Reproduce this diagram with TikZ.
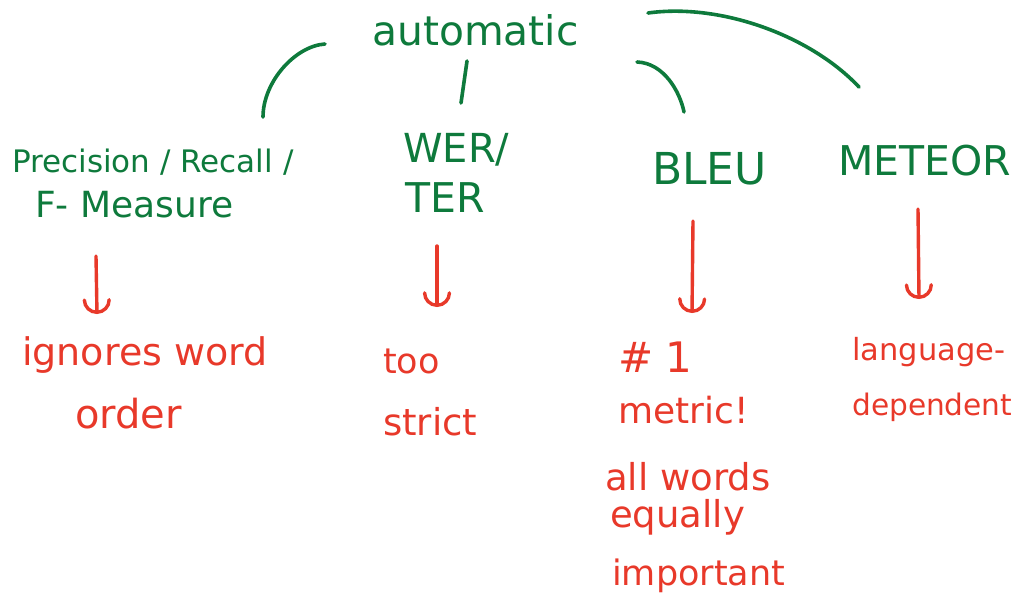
\documentclass[tikz,border=0pt]{standalone}
\usepackage{fontspec}
\setmainfont{DejaVu Sans}
\usetikzlibrary{arrows.meta}
\definecolor{inkgreen}{HTML}{0E7A3C}
\definecolor{inkred}{HTML}{E8392A}
\newcommand{\fs}[1]{\fontsize{#1pt}{#1pt}\selectfont}
\tikzset{
  metric/.style={text=inkgreen, anchor=base west, inner sep=0pt},
  remark/.style={text=inkred, anchor=base west, inner sep=0pt},
  branch/.style={draw=inkgreen, line width=3.6pt, line cap=round},
  consequence/.style={draw=inkred, line width=3.4pt, line cap=round,
    -{Arc Barb[scale=1.7, line cap=round]}},
}
\begin{document}
\begin{tikzpicture}[x=1pt, y=-1pt]
\useasboundingbox (0,0) rectangle (1017,603);

% top-level category
\node[metric, font=\fs{40.8}] (auto) at (372,45) {automatic};

% individual metrics
\node[metric, font=\fs{31}] (prec1) at (12,172) {Precision / Recall /};
\node[metric, font=\fs{36}] (prec2) at (35,217) {F- Measure};
\node[metric, font=\fs{40}] (wer) at (403,162) {WER/};
\node[metric, font=\fs{41}] (ter) at (405,212) {TER};
\node[metric, font=\fs{44}] (bleu) at (652,184) {BLEU};
\node[metric, font=\fs{41}] (meteor) at (838,175) {METEOR};

% remarks on each metric
\node[remark, font=\fs{38}] (ign) at (22,365) {ignores word};
\node[remark, font=\fs{40}] (ord) at (75,428) {order};
\node[remark, font=\fs{35}] (too) at (383,373) {too};
\node[remark, font=\fs{37}] (strict) at (383,435) {strict};
\node[remark, font=\fs{42}] (num) at (618,372) {\#\;1};
\node[remark, font=\fs{36}] (metr) at (618,423) {metric!};
\node[remark, font=\fs{37}] (allw) at (605,490) {all words};
\node[remark, font=\fs{37}] (equ) at (610,527) {equally};
\node[remark, font=\fs{35}] (imp) at (612,585) {important};
\node[remark, font=\fs{30.5}] (lang) at (852,360) {language-};
\node[remark, font=\fs{29.6}] (dep) at (852,415) {dependent};

% end points of the branches
\coordinate (b1s) at (325,44);  \coordinate (b1e) at (263,117);
\coordinate (b2s) at (467,61);  \coordinate (b2e) at (461,103);
\coordinate (b3s) at (637,62);  \coordinate (b3e) at (684,112);
\coordinate (b4s) at (648,13);  \coordinate (b4e) at (859,87);

\draw[branch] (b1s) .. controls (295,46) and (263,82) .. (b1e);
\draw[branch] (b2s) -- (b2e);
\draw[branch] (b3s) .. controls (664,63) and (680,92) .. (b3e);
\draw[branch] (b4s) .. controls (720,3) and (810,35) .. (b4e);

% end points of the remark arrows
\coordinate (r1s) at (96,256);  \coordinate (r1e) at (97,314);
\coordinate (r2s) at (437,246); \coordinate (r2e) at (437,307);
\coordinate (r3s) at (693,221); \coordinate (r3e) at (692,313);
\coordinate (r4s) at (918,209); \coordinate (r4e) at (919,299);

\draw[consequence] (r1s) -- (r1e);
\draw[consequence] (r2s) -- (r2e);
\draw[consequence] (r3s) -- (r3e);
\draw[consequence] (r4s) -- (r4e);
\end{tikzpicture}
\end{document}
